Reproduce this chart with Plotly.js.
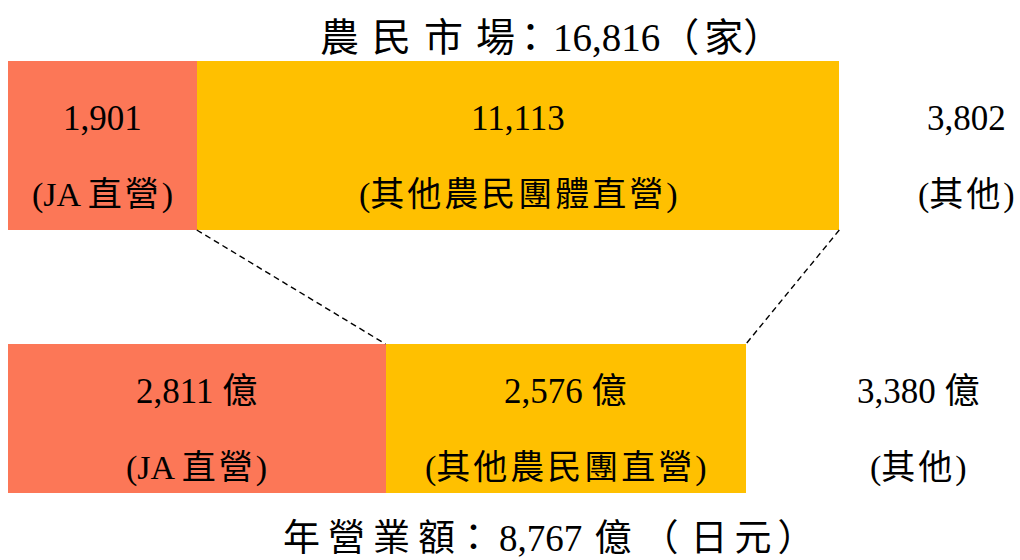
<!DOCTYPE html>
<html>
<head>
<meta charset="utf-8">
<script src="https://cdn.plot.ly/plotly-3.0.1.min.js"></script>
<style>html,body{margin:0;padding:0;background:#fff;}#chart{width:1020px;height:560px;}</style>
</head>
<body>
<div id="chart"></div>
<script>
// ---- data ----
const rows = ['農民市場', '年營業額'];
const marketCategories = ['JA 直營', '其他農民團體直營', '其他'];
const salesCategories = ['JA 直營', '其他農民團直營', '其他'];
const marketCounts = [1901, 11113, 3802];      // 家
const salesOku = [2811, 2576, 3380];           // 億日元
// segment lengths as drawn in the diagram (relative %, the original is not to scale)
const marketDrawn = [18.8, 64.0, 25.3];
const salesDrawn = [37.6, 35.9, 34.3];

// ---- styles ----
const segColors = ['#FC7757', '#FFC000', 'rgba(0,0,0,0)'];
const barWidths = [0.619, 0.546];
const FONT = '"Liberation Serif", "Noto Sans CJK TC", serif';

const fmt = v => v.toLocaleString('en-US');
const sum = a => a.reduce((s, v) => s + v, 0);
const ls = (t, px) => '<span style="letter-spacing:' + px + 'px">' + t + '</span>';
function spaced(str, px) {
  return str.replace(/[\u3000-\u9fff\uff00-\uffef]+/g, m => ls(m, px));
}

const traces = segColors.map((c, i) => ({
  type: 'bar', orientation: 'h',
  y: rows,
  x: [marketDrawn[i], salesDrawn[i]],
  width: barWidths,
  marker: {color: c, line: {width: 0}},
  hoverinfo: 'skip', showlegend: false
}));

const annotations = [];
const rowData = [
  {vals: marketCounts, len: marketDrawn, cats: marketCategories, unit: ''},
  {vals: salesOku, len: salesDrawn, cats: salesCategories, unit: ' 億'}
];
rowData.forEach((rd, r) => {
  let cum = 0;
  rd.vals.forEach((v, i) => {
    const cx = cum + rd.len[i] / 2;
    cum += rd.len[i];
    annotations.push({
      xref: 'x', yref: 'y', x: cx, y: r - 0.10, showarrow: false,
      text: fmt(v) + rd.unit, font: {family: FONT, size: 35, color: '#000'},
      xanchor: 'center', yanchor: 'middle'
    });
    annotations.push({
      xref: 'x', yref: 'y', x: cx, y: r + 0.18, showarrow: false,
      text: '(' + spaced(rd.cats[i], 3) + ')', font: {family: FONT, size: 34, color: '#000'},
      xanchor: 'center', yanchor: 'middle'
    });
  });
});

// titles: "農民市場：16,816（家）" and "年營業額：8,767 億（日元）"
const t1 = rows[0], t2 = rows[1];
const title1 = ls(t1.slice(0, 3), 13) + ls(t1[3], -4) + ls('：', 3) +
  fmt(sum(marketCounts)) + ls('（', 5) + ls('家', 0) + '）';
const title2 = ls(t2.slice(0, 3), 8) + t2[3] + ls('：', 7) +
  fmt(sum(salesOku)) + ls(' ', 3) + ls('億', 10) + ls('（', 12) + ls('日', 7) + ls('元', 6) + '）';

annotations.push({
  xref: 'paper', yref: 'paper', x: 0.3088, y: 0.947, showarrow: false,
  text: title1, font: {family: FONT, size: 39, color: '#000'}, xanchor: 'left', yanchor: 'middle'
});
annotations.push({
  xref: 'paper', yref: 'paper', x: 0.2719, y: 0.0311, showarrow: false,
  text: title2, font: {family: FONT, size: 37, color: '#000'}, xanchor: 'left', yanchor: 'middle'
});

const shapes = [
  {type: 'line', xref: 'x', yref: 'y',
   x0: marketDrawn[0], y0: 0 + barWidths[0] / 2,
   x1: salesDrawn[0], y1: 1 - barWidths[1] / 2,
   line: {color: '#000', width: 1.4, dash: '6px,4px'}},
  {type: 'line', xref: 'x', yref: 'y',
   x0: marketDrawn[0] + marketDrawn[1], y0: 0 + barWidths[0] / 2,
   x1: salesDrawn[0] + salesDrawn[1], y1: 1 - barWidths[1] / 2,
   line: {color: '#000', width: 1.4, dash: '6px,4px'}}
];

const layout = {
  width: 1020, height: 560,
  margin: {l: 8, r: 8, t: 9, b: 5},
  paper_bgcolor: '#fff', plot_bgcolor: '#fff',
  barmode: 'stack',
  showlegend: false,
  xaxis: {range: [0, 100], visible: false, fixedrange: true},
  yaxis: {type: 'category', range: [1.5, -0.5], visible: false, fixedrange: true},
  annotations: annotations,
  shapes: shapes,
  font: {family: FONT}
};

Plotly.newPlot('chart', traces, layout, {displayModeBar: false, staticPlot: true});
</script>
</body>
</html>
